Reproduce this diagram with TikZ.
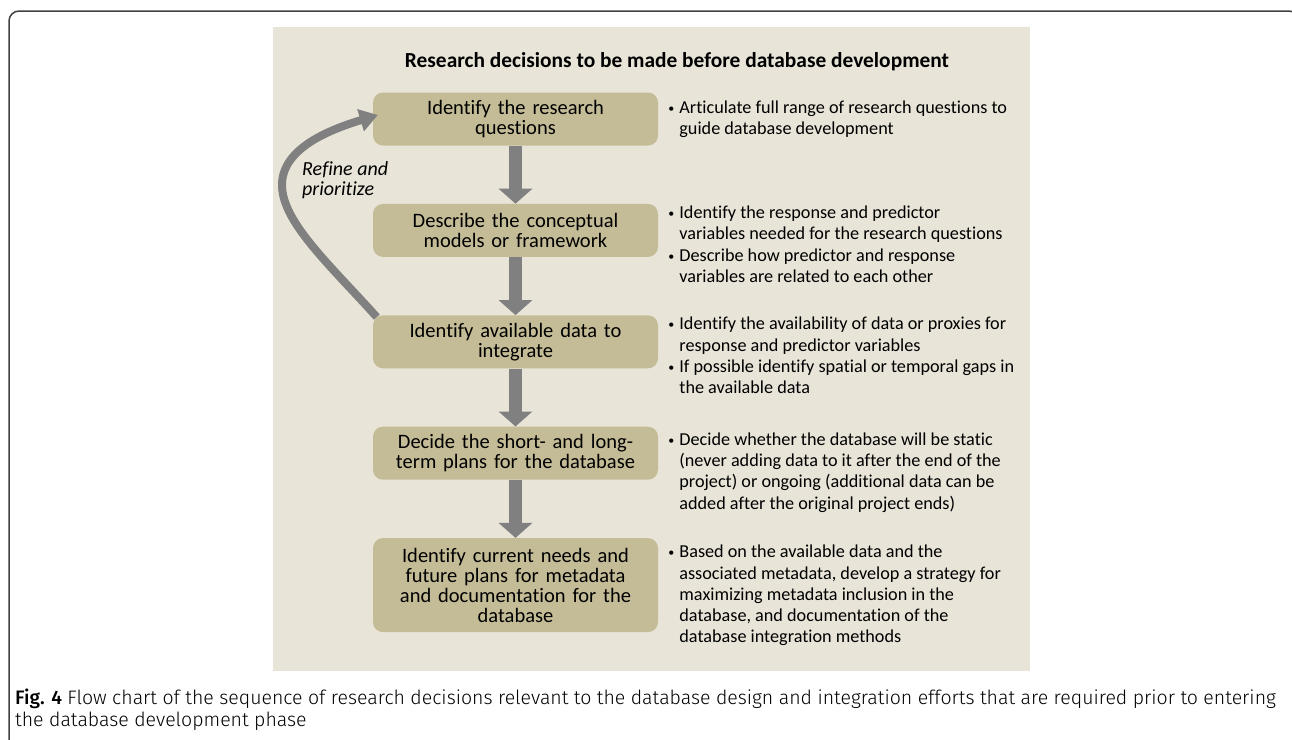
\documentclass[tikz,border=0pt]{standalone}
\usepackage{fontspec}
\setmainfont{Carlito}[Ligatures=NoCommon]
\newfontfamily\capfont{Fira Sans}[UprightFont={* Light},BoldFont={* Medium}]
\usetikzlibrary{arrows.meta,positioning,calc}
\definecolor{panelbg}{RGB}{232,228,216}
\definecolor{boxtan}{RGB}{196,188,150}
\definecolor{arrowgray}{RGB}{128,128,128}
\tikzset{
  stepbox/.style={fill=boxtan, rounded corners=10pt, minimum width=285pt, minimum height=53pt,
    text width=280pt, align=center, inner sep=0pt, font=\fontsize{20.5}{20}\selectfont},
  notes/.style={align=left, inner sep=0pt, font=\fontsize{18.2}{21.3}\selectfont},
  downarrow/.style={draw=arrowgray, line width=13pt, -{Triangle[width=33pt,length=15pt]}},
  looparrow/.style={draw=arrowgray, line width=8pt, -{Triangle[width=22pt,length=18pt]}}
}
\newcommand{\itm}{\makebox[11pt][l]{\raisebox{1pt}{\fontsize{12}{12}\selectfont•}}}
\newcommand{\cnt}{\hspace*{11pt}}

\begin{document}
\begin{tikzpicture}[x=1pt,y=-1pt]
        \useasboundingbox (0,0) rectangle (1292,739);
        \draw[line width=1.5pt, black!75, rounded corners=10pt] (9,11) rectangle (1299,749);
        \fill[panelbg] (273,27) rectangle (1030,671);

        \node[font=\bfseries\fontsize{21.4}{24}\selectfont] (title) at (677,62) {Research decisions to be made before database development};

        \node[stepbox] (b1) at (515.5,119) {Identify the research\\questions};
        \node[stepbox, below=58pt of b1] (b2) {Describe the conceptual\\models or framework};
        \node[stepbox, below=58pt of b2] (b3) {Identify available data to\\integrate};
        \node[stepbox, below=58pt of b3] (b4) {Decide the short- and long-\\term plans for the database};
        \node[stepbox, below=58pt of b4, minimum height=94pt] (b5) {Identify current needs and\\future plans for metadata\\and documentation for the\\database};

        \node[notes, anchor=west] (t1) at ([xshift=10pt]b1.east) {\itm Articulate full range of research questions to\\\cnt guide database development};
        \node[notes, anchor=north west] (t2) at ([xshift=10pt,yshift=-2pt]b2.north east) {\itm Identify the response and predictor\\\cnt variables needed for the research questions\\\itm Describe how predictor and response\\\cnt variables are related to each other};
        \node[notes, anchor=north west] (t3) at ([xshift=10pt,yshift=-2pt]b3.north east) {\itm Identify the availability of data or proxies for\\\cnt response and predictor variables\\\itm If possible identify spatial or temporal gaps in\\\cnt the available data};
        \node[notes, anchor=north west] (t4) at ([xshift=10pt,yshift=-6pt]b4.north east) {\itm Decide whether the database will be static\\\cnt (never adding data to it after the end of the\\\cnt project) or ongoing (additional data can be\\\cnt added after the original project ends)};
        \node[notes, anchor=north west] (t5) at ([xshift=10pt,yshift=-7pt]b5.north east) {\itm Based on the available data and the\\\cnt associated metadata, develop a strategy for\\\cnt maximizing metadata inclusion in the\\\cnt database, and documentation of the\\\cnt database integration methods};

        \draw[downarrow] (b1.south) -- (b2.north);
        \draw[downarrow] (b2.south) -- (b3.north);
        \draw[downarrow] (b3.south) -- (b4.north);
        \draw[downarrow] (b4.south) -- (b5.north);

        \coordinate (bend) at (282,185);
        \draw[looparrow] ([xshift=4pt,yshift=-2pt]b3.north west) .. controls (330,265) and (282,222) .. (bend)
            .. controls (282,150) and (325,131) .. ([xshift=5pt,yshift=4pt]b1.west);
        \node[anchor=west, align=left, inner sep=0pt, font=\itshape\fontsize{20}{20}\selectfont] (refine) at (302,180) {Refine and\\prioritize};

        \node[anchor=north west, align=left, inner sep=0pt, font=\capfont\fontsize{19.5}{22}\selectfont] (caption) at (15,689) {{\bfseries Fig. 4} Flow chart of the sequence of research decisions relevant to the database design and integration efforts that are required prior to entering\\the database development phase};
    \end{tikzpicture}
\end{document}
